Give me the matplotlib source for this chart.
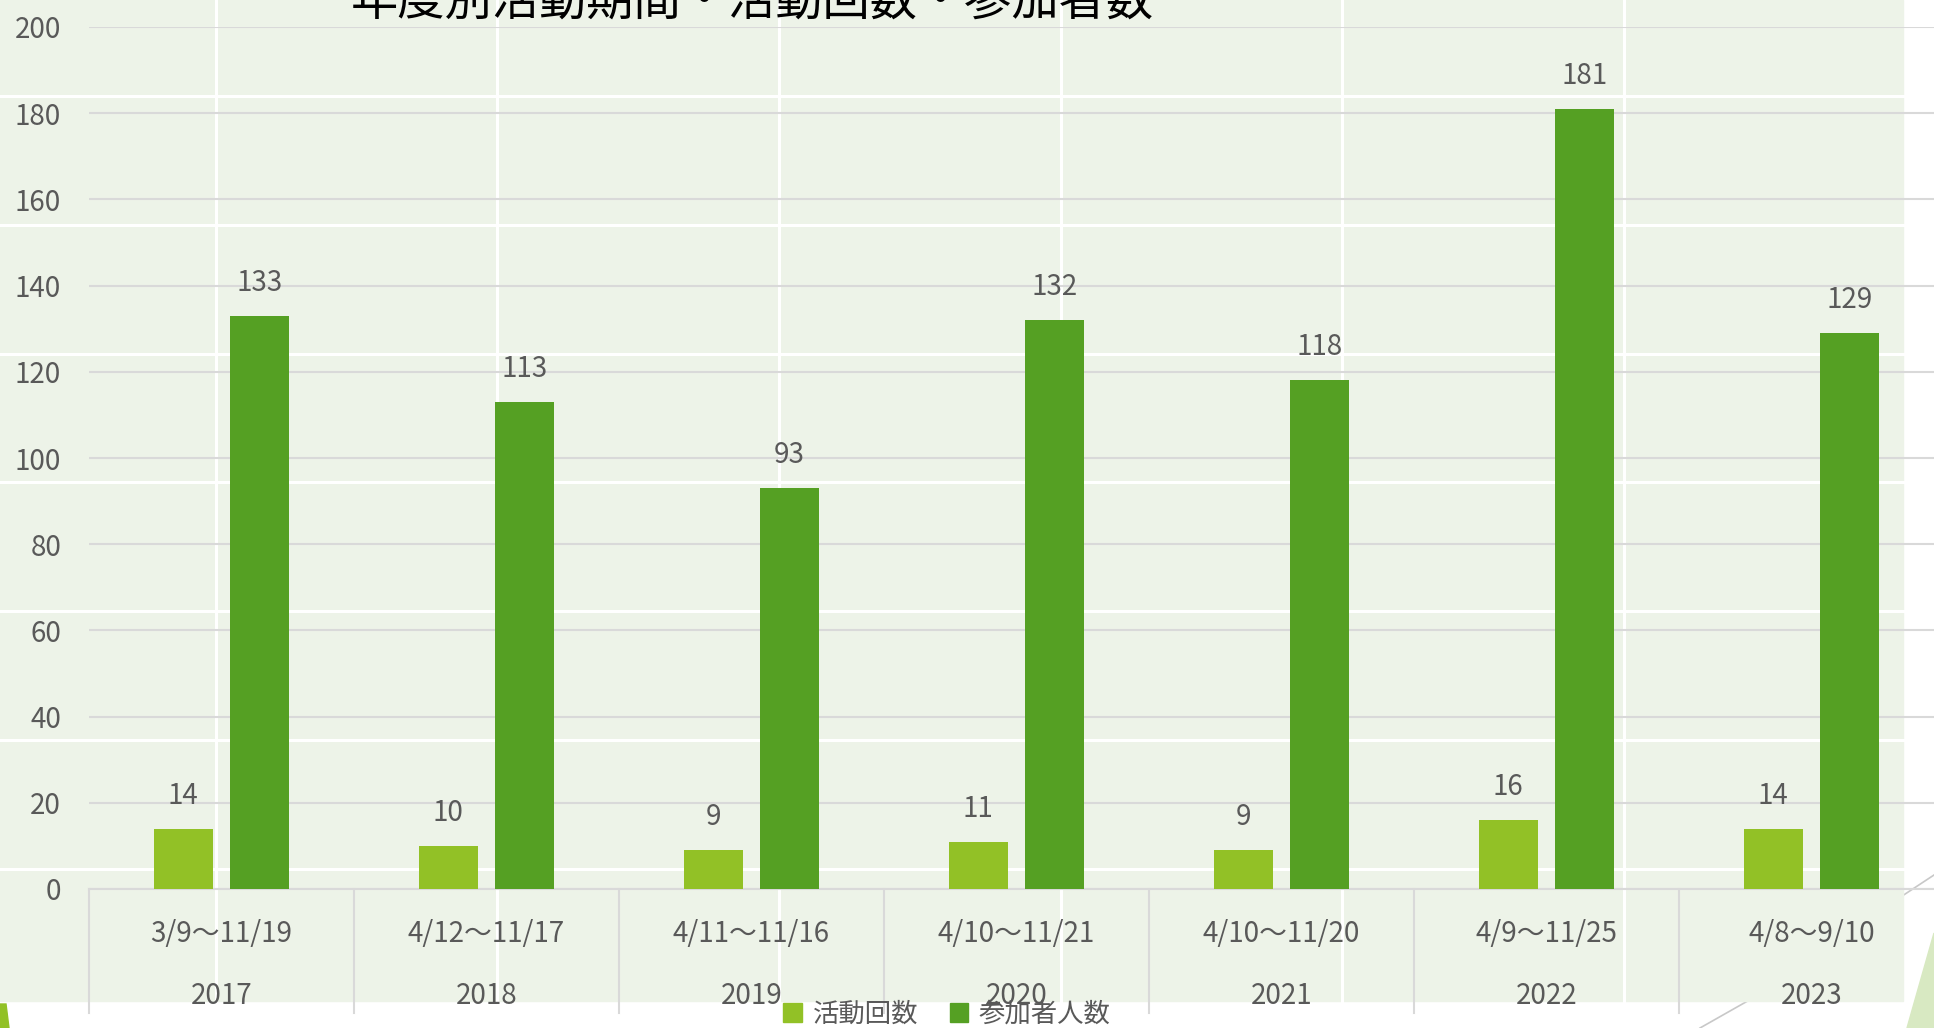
import matplotlib
matplotlib.use("Agg")
import matplotlib.pyplot as plt
from matplotlib.patches import Rectangle, Polygon, Patch
from matplotlib.lines import Line2D
import numpy as np

plt.rcParams['font.family'] = ['Noto Sans CJK JP', 'DejaVu Sans']

# data
years = ["2017", "2018", "2019", "2020", "2021", "2022", "2023"]
periods = ["3/9～11/19", "4/12～11/17", "4/11～11/16", "4/10～11/21",
           "4/10～11/20", "4/9～11/25", "4/8～9/10"]
activity_count = [14, 10, 9, 11, 9, 16, 14]
participants = [133, 113, 93, 132, 118, 181, 129]
series_names = ["活動回数", "参加者人数"]
title = "年度別活動期間・活動回数・参加者数"

c_light = "#92C126"
c_dark = "#55A023"
text_gray = "#595959"
grid_gray = "#D9D9D9"
bg_green = "#EDF3E8"

W, H = 1934, 1028
fig = plt.figure(figsize=(W / 100, H / 100), dpi=100, facecolor="white")


def fx(px):
    return px / W


def fy(py):
    return 1 - py / H


# slide decorations behind the chart
fig.add_artist(Line2D([fx(1700), fx(1760)], [fy(1028), fy(994)], color="#C8C8C8",
                      lw=1.2, transform=fig.transFigure, zorder=-12))
fig.add_artist(Line2D([fx(1890), fx(1934)], [fy(904), fy(875)], color="#C8C8C8",
                      lw=1.2, transform=fig.transFigure, zorder=-12))
fig.add_artist(Polygon([(fx(1934), fy(933)), (fx(1907), fy(1028)), (fx(1934), fy(1028))],
                       closed=True, color="#D8E9C2", transform=fig.transFigure, zorder=-12))
fig.add_artist(Polygon([(0, fy(1004)), (fx(6), fy(1004)), (fx(9), fy(1028)), (0, fy(1028))],
                       closed=True, color=c_light, transform=fig.transFigure, zorder=-12))

# light green panel with white tile lines
fig.add_artist(Rectangle((0, fy(1001)), fx(1903), 1 - fy(1001), color=bg_green,
                         transform=fig.transFigure, zorder=-11))
for px in [216, 497, 779, 1061, 1342, 1624]:
    fig.add_artist(Line2D([fx(px), fx(px)], [fy(1001), 1], color="white", lw=2.2,
                          transform=fig.transFigure, zorder=-10))
for py in [96, 225, 354, 482, 611, 740, 869]:
    fig.add_artist(Line2D([0, fx(1903)], [fy(py), fy(py)], color="white", lw=2.2,
                          transform=fig.transFigure, zorder=-10))

# chart axes
ax_left, ax_right, ax_top, ax_bottom = 89, 1944, 27, 889
ax = fig.add_axes([fx(ax_left), fy(ax_bottom), fx(ax_right - ax_left),
                   (ax_bottom - ax_top) / H])
ax.set_facecolor("none")

x = np.arange(len(years))
w = 0.223
off = 0.144
b1 = ax.bar(x - off, activity_count, w, color=c_light, zorder=3)
b2 = ax.bar(x + off, participants, w, color=c_dark, zorder=3)
for bars in (b1, b2):
    ax.bar_label(bars, padding=13, color=text_gray, fontsize=20)

ax.set_xlim(-0.5, len(years) - 0.5)
ax.set_ylim(0, 200)
ax.set_yticks(np.arange(0, 201, 20))
ax.tick_params(axis="y", length=0, pad=20, labelsize=20, labelcolor=text_gray)
ax.set_xticks([])
ax.grid(axis="y", color=grid_gray, lw=1.5, zorder=0)
for s in ["top", "right", "left"]:
    ax.spines[s].set_visible(False)
ax.spines["bottom"].set_color(grid_gray)
ax.spines["bottom"].set_linewidth(1.5)

# two-level category axis
axis_h = ax_bottom - ax_top
trans = ax.get_xaxis_transform()
for i in range(len(years)):
    ax.text(i, -(934 - ax_bottom) / axis_h, periods[i], transform=trans,
            ha="center", va="center", fontsize=20, color=text_gray)
    ax.text(i, -(996 - ax_bottom) / axis_h, years[i], transform=trans,
            ha="center", va="center", fontsize=20, color=text_gray)
for b in np.arange(-0.5, len(years), 1.0):
    ax.plot([b, b], [0, -(1013 - ax_bottom) / axis_h], transform=trans,
            color=grid_gray, lw=1.5, clip_on=False)

# title (cut off at the top like the slide)
fig.text(fx(752), fy(16), title, ha="center", va="baseline", fontsize=34,
         color="black")

handles = [Patch(color=c_light), Patch(color=c_dark)]
fig.legend(handles, series_names, loc="center", bbox_to_anchor=(fx(947), fy(1014)),
           ncol=2, frameon=False, fontsize=19, labelcolor=text_gray,
           handlelength=0.7, handleheight=0.7, handletextpad=0.4, columnspacing=1.2)

fig.savefig("out.png", dpi=100, facecolor="white")
